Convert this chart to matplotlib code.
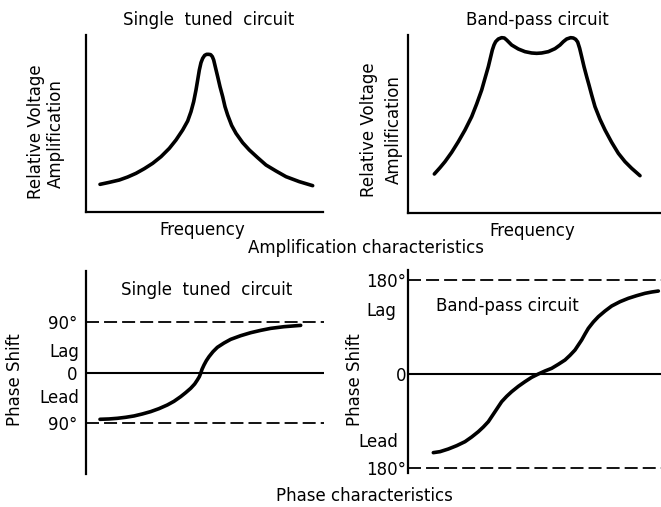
import matplotlib
matplotlib.use("Agg")
import matplotlib.pyplot as plt

plt.rcParams['font.family'] = ['DejaVu Sans']

# ---- data -------------------------------------------------------------
# Amplification, single tuned circuit (frequency 0-100, relative amplification 0-100)
single_amp_f = [5.91, 9.85, 14.06, 17.58, 21.10, 24.61, 28.13, 31.65, 35.16, 37.97,
                40.79, 42.90, 44.30, 45.43, 46.41, 47.12, 47.82, 48.52, 49.23, 50.07,
                50.91, 51.76, 52.60, 53.31, 53.87, 54.71, 55.56, 56.54, 57.67, 58.65,
                59.77, 61.46, 63.29, 66.10, 68.92, 72.43, 75.95, 80.17, 84.39, 90.01,
                95.64]
single_amp_a = [15.63, 16.76, 18.08, 19.77, 21.85, 24.48, 27.50, 31.26, 35.97, 40.68,
                46.33, 51.41, 56.69, 62.33, 68.93, 74.58, 80.23, 84.37, 86.82, 88.51,
                89.08, 89.08, 88.89, 87.76, 85.88, 81.17, 76.46, 70.81, 65.16, 59.51,
                54.80, 48.90, 44.44, 39.17, 35.03, 30.70, 26.55, 23.16, 19.96, 17.14,
                14.88]

# Amplification, band-pass circuit
band_amp_f = [10.41, 12.65, 14.62, 17.26, 19.89, 22.53, 25.17, 27.14, 29.12, 30.43,
              31.75, 32.54, 33.33, 33.99, 34.65, 35.70, 37.02, 38.08, 39.00, 40.97,
              43.61, 46.25, 48.88, 50.86, 52.83, 55.47, 58.10, 60.08, 61.40, 62.71,
              64.30, 65.35, 66.27, 67.06, 67.85, 68.64, 69.57, 70.62, 71.54, 72.60,
              73.91, 75.89, 77.87, 80.50, 83.14, 85.77, 88.41, 91.70]
band_amp_a = [21.91, 25.47, 28.84, 34.08, 40.07, 46.63, 54.12, 61.24, 69.10, 75.66,
              82.21, 86.89, 91.57, 94.38, 96.26, 97.75, 98.50, 98.31, 97.19, 94.38,
              92.13, 90.64, 89.89, 89.70, 89.89, 90.64, 92.32, 94.38, 96.26, 97.75,
              98.50, 98.31, 97.57, 96.07, 92.51, 87.83, 82.21, 76.59, 71.91, 66.29,
              59.74, 52.62, 46.63, 39.70, 33.52, 28.84, 25.09, 20.97]

# Phase, single tuned circuit (degrees, lag positive)
single_ph_f = [5.88, 9.66, 13.17, 16.67, 20.17, 23.67, 27.17, 30.67, 34.17, 36.97,
               39.78, 41.88, 43.98, 45.66, 46.78, 47.62, 48.18, 48.74, 49.58, 50.56,
               51.68, 53.36, 55.18, 57.98, 60.78, 64.99, 69.19, 73.39, 77.59, 83.19,
               90.20]
single_ph_d = [-82.99, -82.40, -81.22, -79.45, -77.08, -73.54, -69.40, -64.09, -57.59,
               -51.09, -42.82, -35.74, -28.06, -20.38, -13.29, -7.38, -1.48, 5.61,
               13.29, 20.97, 28.06, 36.92, 44.60, 52.27, 58.77, 65.27, 70.58, 74.72,
               78.26, 81.22, 83.58]

# Phase, band-pass circuit
band_ph_f = [10.01, 12.65, 15.94, 19.24, 22.53, 25.17, 27.80, 29.78, 31.75, 33.07,
             34.39, 35.70, 37.02, 39.00, 40.97, 43.61, 46.25, 48.88, 51.52, 54.15,
             56.79, 59.42, 62.06, 64.03, 66.01, 67.32, 68.64, 69.96, 71.28, 73.25,
             75.23, 77.87, 80.50, 83.79, 87.09, 90.38, 93.68, 96.31, 98.95]
band_ph_d = [-150.9, -149.0, -143.9, -137.5, -129.8, -120.8, -110.6, -101.6, -91.4,
             -81.8, -72.2, -62.6, -53.0, -42.7, -33.8, -23.5, -14.5, -6.2, 0.2, 6.0,
             11.1, 18.8, 27.1, 36.1, 46.3, 55.9, 65.5, 77.0, 87.9, 100.1, 110.3,
             121.2, 130.8, 139.1, 145.6, 150.7, 155.2, 157.7, 159.6]

single_ticks = [90, 0, -90]
single_tick_labels = ['90°', '0', '90°']
band_ticks = [180, 0, -180]
band_tick_labels = ['180°', '0', '180°']

# ---- layout helpers ---------------------------------------------------
W, H = 661, 507
fig = plt.figure(figsize=(W / 100, H / 100), dpi=100)
fig.patch.set_facecolor('white')

FS = 12
CURVE_LW = 2.6
AXIS_LW = 1.6


def box(x0, y0, x1, y1):
    return [x0 / W, 1 - y1 / H, (x1 - x0) / W, (y1 - y0) / H]


def ftext(x, y, s, rot=0, ha='center', va='center', **kw):
    fig.text(x / W, 1 - y / H, s, rotation=rot, ha=ha, va=va,
             fontsize=kw.pop('fontsize', FS), color='black', **kw)


def frame(ax, bottom=True):
    for side in ('top', 'right'):
        ax.spines[side].set_visible(False)
    ax.spines['bottom'].set_visible(bottom)
    for side in ('left', 'bottom'):
        ax.spines[side].set_linewidth(AXIS_LW)
        ax.spines[side].set_color('black')
    ax.set_xticks([])
    ax.patch.set_alpha(0)


def curve(ax, x, y):
    ax.plot(x, y, color='black', lw=CURVE_LW, solid_capstyle='round',
            solid_joinstyle='round', clip_on=False)


# ---- amplification: single tuned --------------------------------------
ax1 = fig.add_axes(box(86, 35, 323, 212))
frame(ax1)
ax1.set_yticks([])
ax1.set_xlim(0, 100)
ax1.set_ylim(0, 100)
curve(ax1, single_amp_f, single_amp_a)
ftext(209, 20, 'Single  tuned  circuit')
ftext(36, 132, 'Relative Voltage', rot=90)
ftext(56, 134, 'Amplification', rot=90)
ftext(202, 230, 'Frequency')

# ---- amplification: band-pass -----------------------------------------
ax2 = fig.add_axes(box(408, 35, 661, 213))
frame(ax2)
ax2.set_yticks([])
ax2.set_xlim(0, 100)
ax2.set_ylim(0, 100)
curve(ax2, band_amp_f, band_amp_a)
ftext(537, 20, 'Band-pass circuit')
ftext(369, 130, 'Relative Voltage', rot=90)
ftext(394, 130, 'Amplification', rot=90)
ftext(532, 231, 'Frequency')

ftext(366, 248, 'Amplification characteristics')

# ---- phase: single tuned ----------------------------------------------
ax3 = fig.add_axes(box(86, 271, 324, 474))
frame(ax3, bottom=False)
ax3.set_xlim(0, 100)
ax3.set_ylim(-180, 180)
ax3.set_yticks(single_ticks)
ax3.set_yticklabels(single_tick_labels, fontsize=FS)
ax3.tick_params(axis='y', length=0, pad=6)
ax3.axhline(0, color='black', lw=1.5)
for v in (90, -90):
    ax3.axhline(v, color='black', lw=1.3, ls=(0, (7.2, 2.8)))
curve(ax3, single_ph_f, single_ph_d)
ftext(207, 290, 'Single  tuned  circuit')
ftext(79, 352, 'Lag', ha='right')
ftext(79, 398, 'Lead', ha='right')
ftext(15, 380, 'Phase Shift', rot=90)

# ---- phase: band-pass -------------------------------------------------
ax4 = fig.add_axes(box(408, 270, 661, 473))
frame(ax4, bottom=False)
ax4.set_xlim(0, 100)
ax4.set_ylim(-190, 200)
ax4.set_yticks(band_ticks)
ax4.set_yticklabels(band_tick_labels, fontsize=FS)
ax4.tick_params(axis='y', length=0, pad=1.5)
ax4.axhline(0, color='black', lw=1.5)
for v in (180, -180):
    ax4.axhline(v, color='black', lw=1.3, ls=(0, (7.2, 2.8)))
curve(ax4, band_ph_f, band_ph_d)
ftext(507, 306, 'Band-pass circuit')
ftext(396, 311, 'Lag', ha='right')
ftext(398, 442, 'Lead', ha='right')
ftext(355, 380, 'Phase Shift', rot=90)

ftext(364, 496, 'Phase characteristics')

fig.savefig('out.png', dpi=100, facecolor='white')
